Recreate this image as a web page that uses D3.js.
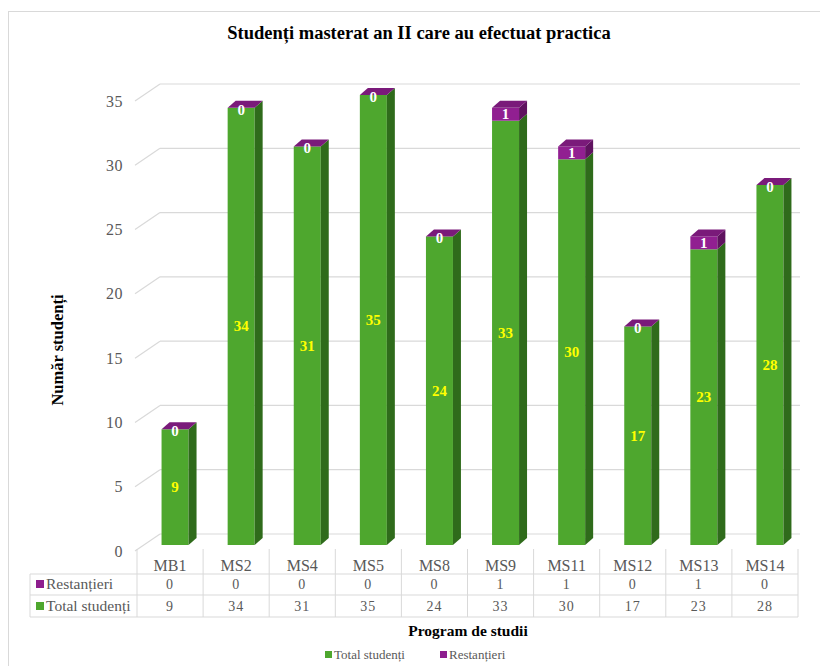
<!DOCTYPE html>
<html>
<head>
<meta charset="utf-8">
<script src="https://cdn.jsdelivr.net/npm/d3@7"></script>
<style>
  body { margin: 0; background: #fff; }
  svg text { font-family: "Liberation Serif", "Times New Roman", serif !important; }
</style>
</head>
<body>
<svg id="chart" width="820" height="666"></svg>
<script>
const categories = ['MB1', 'MS2', 'MS4', 'MS5', 'MS8', 'MS9', 'MS11', 'MS12', 'MS13', 'MS14'];
const totalStudenti = [9, 34, 31, 35, 24, 33, 30, 17, 23, 28];
const restantieri = [0, 0, 0, 0, 0, 1, 1, 0, 1, 0];
const yTicks = [0, 5, 10, 15, 20, 25, 30, 35];

const svg = d3.select('#chart');

// frame
svg.append('rect').attr('x', 8.5).attr('y', 11.5).attr('width', 830).attr('height', 700)
  .attr('fill', '#fff').attr('stroke', '#d9d9d9');

// title
svg.append('text').attr('x', 419).attr('y', 39).attr('text-anchor', 'middle')
  .attr('font-size', 18.5).attr('font-weight', 'bold').attr('fill', '#000')
  .text('Studenți masterat an II care au efectuat practica');

// scales
const x = d3.scaleBand().domain(categories).range([137, 798]);
const y = d3.scaleLinear().domain([0, 35]).range([551, 101]);
const backDx = 25, backDy = -17;   // back wall offset
const barDy = -6, barDx = 5;       // bar plane offset
const barW = 27, depthX = 8, depthY = -7;

// back wall gridlines + left diagonals
const grid = svg.append('g');
yTicks.forEach(t => {
  grid.append('line').attr('x1', 135).attr('y1', y(t)).attr('x2', 135 + backDx).attr('y2', y(t) + backDy)
    .attr('stroke', '#d9d9d9').attr('stroke-width', 1.2);
  grid.append('line').attr('x1', 135 + backDx).attr('y1', y(t) + backDy).attr('x2', 800).attr('y2', y(t) + backDy)
    .attr('stroke', '#d9d9d9').attr('stroke-width', 1.2);
});

// y axis labels
const yAxis = svg.append('g').attr('transform', 'translate(123,0)')
  .call(d3.axisLeft(y).tickValues(yTicks).tickSize(0).tickPadding(0));
yAxis.select('.domain').remove();
yAxis.selectAll('text').attr('font-size', 16).attr('fill', '#595959').attr('letter-spacing', 0.5);

svg.append('text').attr('transform', 'translate(63,350) rotate(-90)').attr('text-anchor', 'middle')
  .attr('font-size', 16.5).attr('font-weight', 'bold').attr('fill', '#000').text('Număr studenți');

// bars
const by = v => y(v) + barDy;
function drawSegment(g, cx, v0, v1, front, side, top, drawTop) {
  const xl = cx - barW / 2, xr = cx + barW / 2;
  if (v1 > v0) {
    g.append('rect').attr('x', xl).attr('y', by(v1)).attr('width', barW).attr('height', by(v0) - by(v1))
      .attr('fill', front);
    g.append('path').attr('d', `M${xr},${by(v0)}L${xr + depthX},${by(v0) + depthY}L${xr + depthX},${by(v1) + depthY}L${xr},${by(v1)}Z`)
      .attr('fill', side);
  }
  if (drawTop) {
    g.append('path').attr('d', `M${xl},${by(v1)}L${xl + depthX},${by(v1) + depthY}L${xr + depthX},${by(v1) + depthY}L${xr},${by(v1)}Z`)
      .attr('fill', top);
  }
}

const bars = svg.append('g');
categories.forEach((c, i) => {
  const cx = x(c) + x.bandwidth() / 2 + barDx;
  const g = bars.append('g');
  const t = totalStudenti[i], r = restantieri[i];
  drawSegment(g, cx, 0, t, '#4ea72e', '#2f6b1b', '#5cb83a', false);
  drawSegment(g, cx, t, t + r, '#911f91', '#5f125f', '#7a1a7a', true);
  // labels
  g.append('text').attr('x', cx).attr('y', by(t / 2) + 5).attr('text-anchor', 'middle')
    .attr('font-size', 15).attr('font-weight', 'bold').attr('fill', '#ffff00').text(t);
  g.append('text').attr('x', cx).attr('y', by(t + r / 2) + (r > 0 ? 5 : 7)).attr('text-anchor', 'middle')
    .attr('font-size', 15).attr('font-weight', 'bold').attr('fill', '#fff').text(r);
});

// data table
const table = svg.append('g');
const rowTop = 549, r1 = 574, r2 = 595, r3 = 617;
const tableLeft = 30;
const lineCol = '#d9d9d9';
categories.forEach(c => {
  table.append('line').attr('x1', x(c)).attr('x2', x(c)).attr('y1', rowTop).attr('y2', r3).attr('stroke', lineCol);
});
table.append('line').attr('x1', 798).attr('x2', 798).attr('y1', rowTop).attr('y2', r3).attr('stroke', lineCol);
table.append('line').attr('x1', tableLeft).attr('x2', tableLeft).attr('y1', r1).attr('y2', r3).attr('stroke', lineCol);
[r1, r2, r3].forEach(yy => {
  table.append('line').attr('x1', tableLeft).attr('x2', 798).attr('y1', yy).attr('y2', yy).attr('stroke', lineCol);
});

categories.forEach((c, i) => {
  const cx = x(c) + x.bandwidth() / 2;
  table.append('text').attr('x', cx).attr('y', 571).attr('text-anchor', 'middle')
    .attr('font-size', 16).attr('fill', '#595959').text(c);
  table.append('text').attr('x', cx).attr('y', 589).attr('text-anchor', 'middle')
    .attr('font-size', 14).attr('letter-spacing', 1).attr('fill', '#595959').text(restantieri[i]);
  table.append('text').attr('x', cx).attr('y', 611).attr('text-anchor', 'middle')
    .attr('font-size', 14).attr('letter-spacing', 1).attr('fill', '#595959').text(totalStudenti[i]);
});

const seriesRows = [
  { name: 'Restanțieri', color: '#8e1e8e', y: 589 },
  { name: 'Total studenți', color: '#4ea72e', y: 611 }
];
seriesRows.forEach(s => {
  table.append('rect').attr('x', 36).attr('y', s.y - 9).attr('width', 8).attr('height', 8).attr('fill', s.color);
  table.append('text').attr('x', 46).attr('y', s.y).attr('font-size', 15.5).attr('fill', '#595959').text(s.name);
});

// x axis title
svg.append('text').attr('x', 468).attr('y', 636).attr('text-anchor', 'middle')
  .attr('font-size', 15.5).attr('font-weight', 'bold').attr('fill', '#000').text('Program de studii');

// legend
const legendItems = [
  { name: 'Total studenți', color: '#4ea72e', x: 325 },
  { name: 'Restanțieri', color: '#8e1e8e', x: 440 }
];
legendItems.forEach(l => {
  svg.append('rect').attr('x', l.x).attr('y', 651).attr('width', 7).attr('height', 7).attr('fill', l.color);
  svg.append('text').attr('x', l.x + 9).attr('y', 659).attr('font-size', 13).attr('fill', '#595959').text(l.name);
});
</script>
</body>
</html>
